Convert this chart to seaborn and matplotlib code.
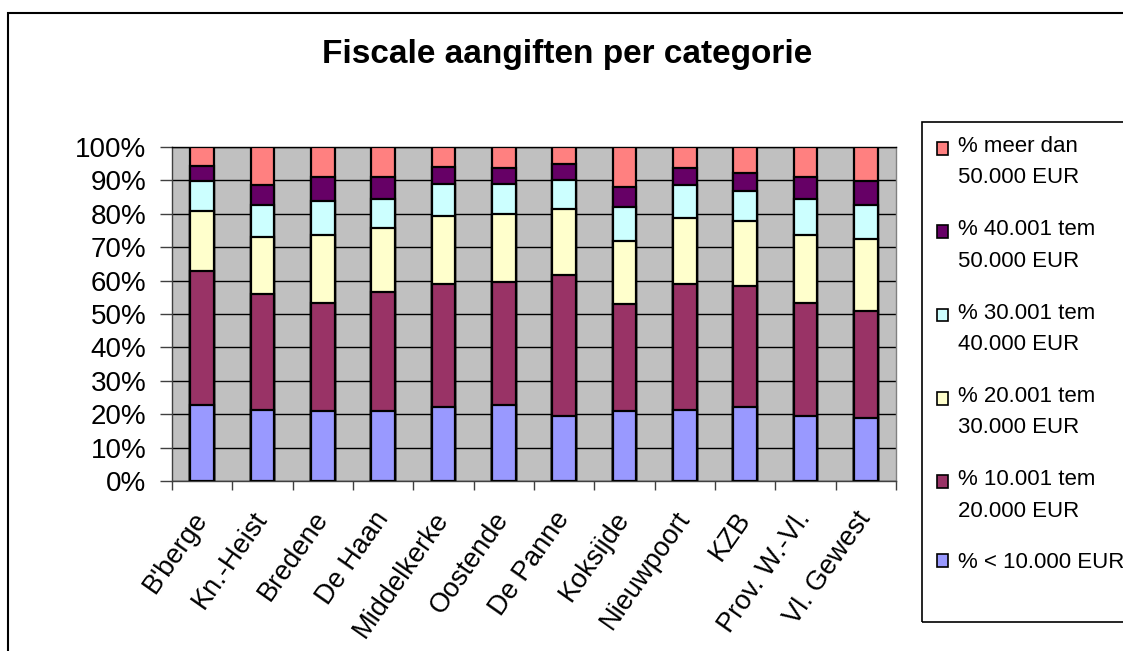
import numpy as np
import pandas as pd
import matplotlib
matplotlib.use("Agg")
import matplotlib.pyplot as plt
import seaborn as sns
from matplotlib.patches import Rectangle
from matplotlib.legend_handler import HandlerPatch
from matplotlib.ticker import FuncFormatter, FixedLocator

# ---------------- data ----------------
categories = ["B'berge", "Kn.-Heist", "Bredene", "De Haan", "Middelkerke", "Oostende",
              "De Panne", "Koksijde", "Nieuwpoort", "KZB", "Prov. W.-Vl.", "Vl. Gewest"]

lt_10000 = [22.7, 21.4, 20.9, 20.9, 22.2, 22.7, 19.5, 20.9, 21.4, 22.2, 19.5, 19.0]
r10_20 = [40.3, 34.6, 32.5, 35.8, 36.8, 37.0, 42.2, 32.0, 37.6, 36.3, 33.9, 31.9]
r20_30 = [17.7, 17.2, 20.3, 19.0, 20.4, 20.3, 19.7, 19.1, 19.7, 19.2, 20.3, 21.6]
r30_40 = [9.0, 9.5, 10.2, 8.8, 9.6, 9.0, 8.8, 10.0, 9.8, 9.0, 10.8, 10.2]
r40_50 = [4.5, 5.8, 7.1, 6.5, 5.0, 4.6, 4.6, 5.9, 5.1, 5.5, 6.5, 7.0]
gt_50000 = [5.8, 11.5, 9.0, 9.0, 6.0, 6.4, 5.2, 12.1, 6.4, 7.8, 9.0, 10.3]

series_labels = ["% < 10.000 EUR", "% 10.001 tem\n20.000 EUR", "% 20.001 tem\n30.000 EUR",
                 "% 30.001 tem\n40.000 EUR", "% 40.001 tem\n50.000 EUR", "% meer dan\n50.000 EUR"]
series_colors = ["#9999FF", "#993366", "#FFFFCC", "#CCFFFF", "#660066", "#FF8080"]
ytick_values = [0, 10, 20, 30, 40, 50, 60, 70, 80, 90, 100]
title_text = "Fiscale aangiften per categorie"

series_values = [lt_10000, r10_20, r20_30, r30_40, r40_50, gt_50000]
df = pd.DataFrame({"categorie": categories})
cum = np.zeros(len(categories))
cum_cols = []
for i, vals in enumerate(series_values):
    cum = cum + np.array(vals)
    col = f"cum{i}"
    df[col] = cum
    cum_cols.append(col)

# ---------------- figure ----------------
sns.set_style("white")
plt.rcParams["font.family"] = ["Liberation Sans", "DejaVu Sans"]
plt.rcParams["text.color"] = "black"
plt.rcParams["xtick.color"] = "black"
plt.rcParams["ytick.color"] = "black"
plt.rcParams["xtick.labelcolor"] = "black"
plt.rcParams["ytick.labelcolor"] = "black"

W, H = 1123, 651
fig = plt.figure(figsize=(W / 100, H / 100), dpi=100)
fig.patch.set_facecolor("white")

ax = fig.add_axes([172 / W, 1 - 481 / H, (896 - 172) / W, (481 - 147) / H])
ax.set_facecolor("#C0C0C0")

# draw cumulative bars from the top layer down
for i in reversed(range(len(series_values))):
    sns.barplot(data=df, x="categorie", y=cum_cols[i], color=series_colors[i],
                saturation=1, width=0.39, edgecolor="black", linewidth=1.6,
                ax=ax, zorder=3, order=categories)

ax.set_xlim(-0.5, len(categories) - 0.5)
ax.set_ylim(0, 100)
ax.set_yticks(ytick_values)
ax.yaxis.set_major_formatter(FuncFormatter(lambda v, p: f"{v:.0f}%"))
ax.grid(axis="y", color="black", linewidth=1, zorder=1)
ax.grid(axis="x", visible=False)
ax.set_axisbelow(True)
ax.set_xlabel("")
ax.set_ylabel("")

ax.tick_params(axis="y", which="major", direction="out", length=8.5, width=1,
               color="#404040", labelsize=20, pad=10, left=True, labelcolor="black")
ax.set_xticks(range(len(categories)))
ax.set_xticklabels(categories, rotation=55, ha="right", va="center",
                   rotation_mode="anchor")
ax.tick_params(axis="x", which="major", length=0, labelsize=19.5, pad=24, labelcolor="black")
ax.xaxis.set_minor_locator(FixedLocator(np.arange(-0.5, len(categories), 1.0)))
ax.tick_params(axis="x", which="minor", direction="out", length=6.5, width=1,
               color="#404040", bottom=True)

for s in ax.spines.values():
    s.set_visible(True)
    s.set_color("#808080")
    s.set_linewidth(1)
ax.spines["left"].set_color("#404040")
ax.spines["bottom"].set_color("#404040")
ax.spines["top"].set_color("black")

fig.text(567 / W, 1 - 55 / H, title_text, ha="center", va="center",
         fontsize=24, fontweight="bold", color="black")

# outer chart border
fig.add_artist(Rectangle((8 / W, -0.2), 1.5, 1 - 13 / H + 0.2, fill=False,
                         edgecolor="black", linewidth=1.5, transform=fig.transFigure))
# legend border
fig.add_artist(Rectangle((922 / W, 1 - 622 / H), 1.0, (622 - 122) / H, fill=False,
                         edgecolor="black", linewidth=1.2, transform=fig.transFigure))

# legend (top layer first), handle aligned with the first line of each label
def top_square(legend, orig_handle, xdescent, ydescent, width, height, fontsize):
    lift = 0.62 * fontsize if orig_handle.get_gid() == "multi" else 0.0
    return Rectangle((-xdescent, -ydescent + lift), width, height)

handles = []
for c, lab in zip(series_colors, series_labels):
    h = Rectangle((0, 0), 1, 1, facecolor=c, edgecolor="black", linewidth=1.2)
    h.set_gid("multi" if "\n" in lab else "single")
    handles.append(h)

leg = fig.legend(handles[::-1], series_labels[::-1], loc="upper left",
                 bbox_to_anchor=(937 / W, 1 - 136 / H), frameon=False,
                 fontsize=16, handlelength=0.5, handleheight=0.5, handletextpad=0.45,
                 labelspacing=1.39, borderaxespad=0, borderpad=0,
                 handler_map={Rectangle: HandlerPatch(patch_func=top_square)})
for t in leg.get_texts():
    t.set_linespacing(1.65)
    t.set_color("black")

fig.savefig("out.png", dpi=100, facecolor="white")
